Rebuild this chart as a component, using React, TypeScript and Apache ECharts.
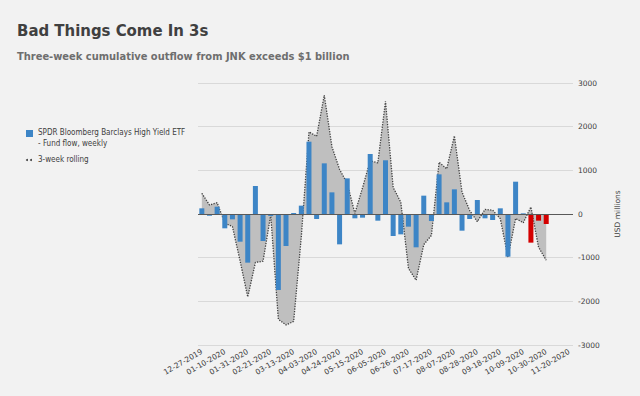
import React, { useEffect, useRef } from "react";
import * as echarts from "echarts";

const weeks: string[] = [
  "12-27-2019", "01-03-2020", "01-10-2020", "01-17-2020", "01-24-2020", "01-31-2020", "02-07-2020",
  "02-14-2020", "02-21-2020", "02-28-2020", "03-06-2020", "03-13-2020", "03-20-2020", "03-27-2020",
  "04-03-2020", "04-10-2020", "04-17-2020", "04-24-2020", "05-01-2020", "05-08-2020", "05-15-2020",
  "05-22-2020", "05-29-2020", "06-05-2020", "06-12-2020", "06-19-2020", "06-26-2020", "07-03-2020",
  "07-10-2020", "07-17-2020", "07-24-2020", "07-31-2020", "08-07-2020", "08-14-2020", "08-21-2020",
  "08-28-2020", "09-04-2020", "09-11-2020", "09-18-2020", "09-25-2020", "10-02-2020", "10-09-2020",
  "10-16-2020", "10-23-2020", "10-30-2020", "11-06-2020", "11-13-2020", "11-20-2020", "11-27-2020",
];

const tickLabels: string[] = [
  "12-27-2019", "01-10-2020", "01-31-2020", "02-21-2020", "03-13-2020", "04-03-2020",
  "04-24-2020", "05-15-2020", "06-05-2020", "06-26-2020", "07-17-2020", "08-07-2020",
  "08-28-2020", "09-18-2020", "10-09-2020", "10-30-2020", "11-20-2020",
];

const weeklyFlow: number[] = [
  130, -40, 167, -328, -122, -634, -1114, 641, -618, -46, -1740, -733, 23, 191, 1656, -114,
  1160, 496, -695, 816, -99, -84, 1374, -153, 1230, -504, -466, -290, -763, 420, -160, 908,
  267, 565, -382, -114, 320, -99, -137, 130, -977, 740, 15, -656, -153, -229,
];

const rolling3w: number[] = [
  475, 206, 259, -210, -288, -1075, -1900, -1110, -1080, -23, -2410, -2540, -2460, -520, 1880,
  1780, 2720, 1542, 1020, 700, 15, 600, 1220, 1170, 2580, 610, 270, -1245, -1515, -700, -490,
  1185, 1035, 1790, 500, 80, -176, 105, 88, -106, -990, -103, -200, 160, -760, -1060,
];

const redFrom = 43;

const BLUE = "#3d85c6";
const RED = "#d40000";
const FONT = "DejaVu Sans";
const FONT_C = "'DejaVu Sans Condensed', 'DejaVu Sans'";

export default function App() {
  const ref = useRef<HTMLDivElement>(null);
  useEffect(() => {
    document.body.style.margin = "0";
    const chart = echarts.init(ref.current!, null, { renderer: "svg" });
    chart.setOption({
      animation: false,
      backgroundColor: "#f2f2f2",
      textStyle: { fontFamily: FONT },
      grid: { left: 198, right: 67, top: 83, bottom: 51 },
      xAxis: {
        type: "category",
        data: weeks,
        boundaryGap: true,
        axisLine: { show: false },
        axisTick: { show: false },
        splitLine: { show: false },
        axisLabel: {
          interval: 0,
          rotate: 30,
          fontSize: 7.5,
          color: "#404040",
          margin: 6,
          formatter: (_v: string, i: number) => (i % 3 === 0 && tickLabels[i / 3] ? tickLabels[i / 3] : ""),
        },
      },
      yAxis: {
        type: "value",
        position: "right",
        min: -3000,
        max: 3000,
        interval: 1000,
        name: "USD millions",
        nameLocation: "middle",
        nameRotate: 90,
        nameGap: 40,
        nameTextStyle: { fontSize: 7.5, color: "#404040" },
        axisLine: { show: false },
        axisTick: { show: false },
        axisLabel: { fontSize: 7.5, color: "#404040", margin: 5, formatter: (v: number) => String(v) },
        splitLine: { lineStyle: { color: "#d9d9d9", width: 1 } },
      },
      series: [
        {
          name: "3-week rolling",
          type: "line",
          data: rolling3w,
          symbol: "none",
          z: 1,
          lineStyle: { color: "#404040", width: 1.3, type: [1.3, 1.3] },
          areaStyle: { color: "#bfbfbf", opacity: 1 },
        },
        {
          name: "SPDR Bloomberg Barclays High Yield ETF - Fund flow, weekly",
          type: "bar",
          z: 3,
          barWidth: 5,
          data: weeklyFlow.map((v, i) => ({
            value: v,
            itemStyle: { color: i >= redFrom ? RED : BLUE },
          })),
          markLine: {
            silent: true,
            symbol: "none",
            label: { show: false },
            lineStyle: { color: "#595959", width: 1, type: "solid" },
            data: [{ yAxis: 0 }],
          },
        },
      ],
      graphic: [
        {
          type: "text",
          left: 17,
          top: 22,
          style: { text: "Bad Things Come In 3s", fontFamily: FONT_C, fontWeight: "bold", fontSize: 16.6, fill: "#404040" },
        },
        {
          type: "text",
          left: 17,
          top: 51,
          style: {
            text: "Three-week cumulative outflow from JNK exceeds $1 billion",
            fontFamily: FONT_C,
            fontWeight: "bold",
            fontSize: 11,
            fill: "#6e6e6e",
          },
        },
        { type: "rect", shape: { x: 26, y: 130, width: 7, height: 7 }, style: { fill: BLUE } },
        {
          type: "text",
          x: 38,
          y: 128,
          style: { text: "SPDR Bloomberg Barclays High Yield ETF", fontFamily: FONT_C, fontSize: 8, fill: "#404040" },
        },
        {
          type: "text",
          x: 38,
          y: 139,
          style: { text: "- Fund flow, weekly", fontFamily: FONT_C, fontSize: 8, fill: "#404040" },
        },
        { type: "circle", shape: { cx: 27, cy: 160, r: 1 }, style: { fill: "#404040" } },
        { type: "circle", shape: { cx: 31, cy: 160, r: 1 }, style: { fill: "#404040" } },
        {
          type: "text",
          x: 38,
          y: 155,
          style: { text: "3-week rolling", fontFamily: FONT_C, fontSize: 8, fill: "#404040" },
        },
      ],
    });
    return () => chart.dispose();
  }, []);
  return <div ref={ref} style={{ width: 640, height: 396 }} />;
}
